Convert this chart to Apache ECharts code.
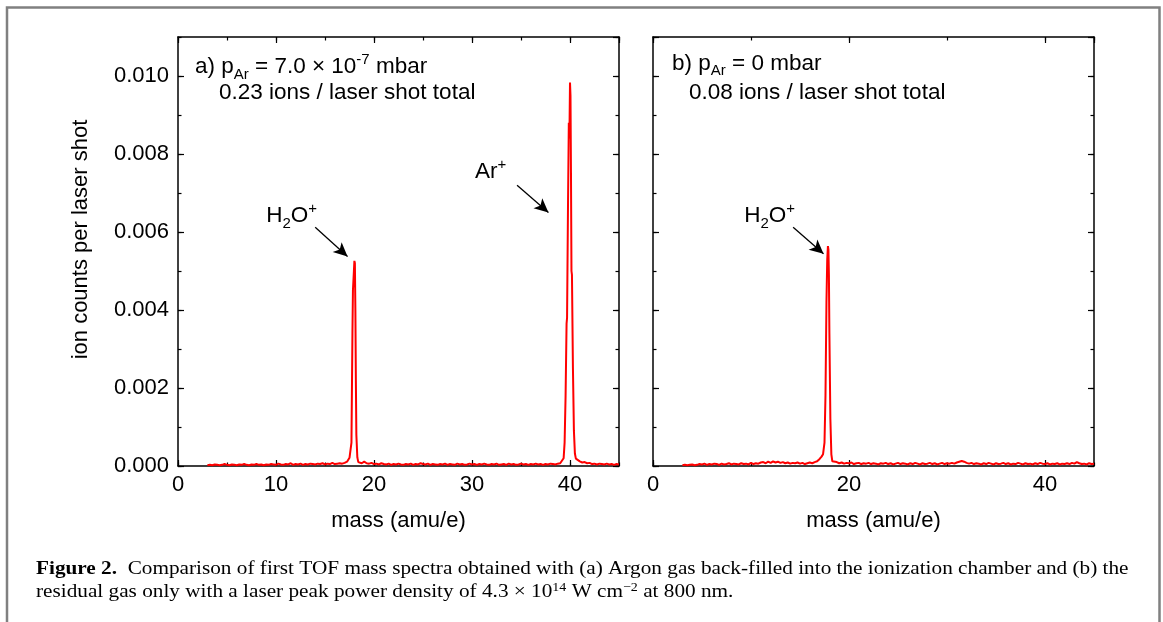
<!DOCTYPE html>
<html>
<head>
<meta charset="utf-8">
<script src="https://cdn.jsdelivr.net/npm/echarts@6/dist/echarts.min.js"></script>
<style>
  html, body { margin: 0; padding: 0; background: #fff; }
  #c { width: 1163px; height: 622px; }
</style>
</head>
<body>
<div id="c"></div>
<script>
// TOF mass spectrum, Ar back-filled: [mass (amu/e), ion counts per laser shot]
const spectrumAr = [
  [3.00,2e-5],[3.25,3e-5],[3.50,2e-5],[3.75,4e-5],[4.00,3e-5],[4.25,2e-5],[4.50,3e-5],[4.75,5e-5],
  [5.00,3e-5],[5.25,2e-5],[5.50,4e-5],[5.75,3e-5],[6.00,2e-5],[6.25,4e-5],[6.50,3e-5],[6.75,5e-5],
  [7.00,3e-5],[7.25,2e-5],[7.50,4e-5],[7.75,3e-5],[8.00,5e-5],[8.25,3e-5],[8.50,4e-5],[8.75,2e-5],
  [9.00,4e-5],[9.25,3e-5],[9.50,5e-5],[9.75,4e-5],[10.00,3e-5],[10.25,6e-5],[10.50,4e-5],[10.75,3e-5],
  [11.00,5e-5],[11.25,4e-5],[11.50,7e-5],[11.75,3e-5],[12.00,5e-5],[12.25,4e-5],[12.50,6e-5],[12.75,3e-5],
  [13.00,5e-5],[13.25,4e-5],[13.50,6e-5],[13.75,5e-5],[14.00,4e-5],[14.25,6e-5],[14.50,5e-5],[14.75,7e-5],
  [15.00,4e-5],[15.25,6e-5],[15.50,5e-5],[15.75,8e-5],[16.00,5e-5],[16.25,6e-5],[16.50,7e-5],[16.75,6e-5],
  [17.00,8e-5],[17.25,1.1e-4],[17.40,1.5e-4],[17.50,2.1e-4],[17.60,2.6e-4],[17.70,6e-4],[17.80,3.4e-3],
  [17.85,4.5e-3],[17.90,4.55e-3],[17.95,5.0e-3],[18.00,5.26e-3],[18.05,5.2e-3],[18.10,4.0e-3],[18.15,2.2e-3],
  [18.20,8e-4],[18.30,2.2e-4],[18.40,1.0e-4],[18.50,8e-5],[18.75,7e-5],[19.00,1.1e-4],[19.25,7e-5],
  [19.50,6e-5],[19.75,8e-5],[20.00,5e-5],[20.25,6e-5],[20.50,4e-5],[20.75,7e-5],[21.00,5e-5],[21.25,4e-5],
  [21.50,6e-5],[21.75,3e-5],[22.00,5e-5],[22.25,4e-5],[22.50,6e-5],[22.75,4e-5],[23.00,3e-5],[23.25,5e-5],
  [23.50,4e-5],[23.75,6e-5],[24.00,3e-5],[24.25,5e-5],[24.50,4e-5],[24.75,7e-5],[25.00,5e-5],[25.25,4e-5],
  [25.50,6e-5],[25.75,3e-5],[26.00,5e-5],[26.25,4e-5],[26.50,3e-5],[26.75,5e-5],[27.00,4e-5],[27.25,6e-5],
  [27.50,3e-5],[27.75,5e-5],[28.00,4e-5],[28.25,3e-5],[28.50,6e-5],[28.75,4e-5],[29.00,5e-5],[29.25,3e-5],
  [29.50,4e-5],[29.75,6e-5],[30.00,4e-5],[30.25,5e-5],[30.50,3e-5],[30.75,5e-5],[31.00,4e-5],[31.25,6e-5],
  [31.50,4e-5],[31.75,3e-5],[32.00,5e-5],[32.25,4e-5],[32.50,6e-5],[32.75,3e-5],[33.00,4e-5],[33.25,5e-5],
  [33.50,3e-5],[33.75,6e-5],[34.00,4e-5],[34.25,5e-5],[34.50,3e-5],[34.75,4e-5],[35.00,6e-5],[35.25,4e-5],
  [35.50,5e-5],[35.75,3e-5],[36.00,5e-5],[36.25,4e-5],[36.50,6e-5],[36.75,4e-5],[37.00,5e-5],[37.25,3e-5],
  [37.50,5e-5],[37.75,4e-5],[38.00,6e-5],[38.25,5e-5],[38.50,4e-5],[38.75,6e-5],[39.00,7e-5],[39.20,9e-5],
  [39.35,2.0e-4],[39.45,6e-4],[39.55,1.8e-3],[39.65,3.65e-3],[39.70,3.8e-3],[39.80,6.8e-3],[39.88,8.8e-3],
  [39.94,8.4e-3],[40.00,9.83e-3],[40.05,9.5e-3],[40.10,7.5e-3],[40.15,5.0e-3],[40.20,4.9e-3],[40.30,2.5e-3],
  [40.40,9e-4],[40.50,3.2e-4],[40.60,1.9e-4],[40.75,1.4e-4],[41.00,1.2e-4],[41.25,9e-5],[41.50,1.0e-4],
  [41.75,7e-5],[42.00,8e-5],[42.25,5e-5],[42.50,6e-5],[42.75,4e-5],[43.00,6e-5],[43.25,5e-5],[43.50,4e-5],
  [43.75,6e-5],[44.00,4e-5],[44.25,5e-5],[44.50,3e-5],[44.75,5e-5],[45.00,4e-5]
];

// TOF mass spectrum, residual gas only
const spectrumResidual = [
  [3.00,2e-5],[3.25,3e-5],[3.50,2e-5],[3.75,3e-5],[4.00,4e-5],[4.25,2e-5],[4.50,3e-5],[4.75,5e-5],
  [5.00,4e-5],[5.25,6e-5],[5.50,3e-5],[5.75,5e-5],[6.00,4e-5],[6.25,6e-5],[6.50,5e-5],[6.75,3e-5],
  [7.00,6e-5],[7.25,4e-5],[7.50,5e-5],[7.75,7e-5],[8.00,4e-5],[8.25,6e-5],[8.50,5e-5],[8.75,4e-5],
  [9.00,7e-5],[9.25,5e-5],[9.50,6e-5],[9.75,4e-5],[10.00,8e-5],[10.25,5e-5],[10.50,7e-5],[10.75,6e-5],
  [11.00,9e-5],[11.25,1.0e-4],[11.50,7e-5],[11.75,1.1e-4],[12.00,8e-5],[12.25,1.2e-4],[12.50,9e-5],
  [12.75,1.1e-4],[13.00,8e-5],[13.25,1.0e-4],[13.50,7e-5],[13.75,9e-5],[14.00,6e-5],[14.25,8e-5],
  [14.50,7e-5],[14.75,9e-5],[15.00,6e-5],[15.25,8e-5],[15.50,5e-5],[15.75,7e-5],[16.00,9e-5],[16.25,7e-5],
  [16.50,1.0e-4],[16.75,1.2e-4],[17.00,1.8e-4],[17.20,2.4e-4],[17.35,3.0e-4],[17.50,6e-4],[17.60,1.8e-3],
  [17.70,4.2e-3],[17.78,5.3e-3],[17.85,5.64e-3],[17.90,5.55e-3],[17.95,4.9e-3],[18.00,3.4e-3],[18.10,1.2e-3],
  [18.20,3.0e-4],[18.30,1.2e-4],[18.50,9e-5],[18.75,1.0e-4],[19.00,7e-5],[19.25,9e-5],[19.50,6e-5],
  [19.75,8e-5],[20.00,7e-5],[20.25,9e-5],[20.50,5e-5],[20.75,7e-5],[21.00,8e-5],[21.25,5e-5],[21.50,7e-5],
  [21.75,6e-5],[22.00,8e-5],[22.25,5e-5],[22.50,7e-5],[22.75,6e-5],[23.00,4e-5],[23.25,7e-5],[23.50,6e-5],
  [23.75,8e-5],[24.00,5e-5],[24.25,7e-5],[24.50,4e-5],[24.75,6e-5],[25.00,8e-5],[25.25,5e-5],[25.50,7e-5],
  [25.75,6e-5],[26.00,4e-5],[26.25,7e-5],[26.50,5e-5],[26.75,8e-5],[27.00,6e-5],[27.25,4e-5],[27.50,7e-5],
  [27.75,5e-5],[28.00,6e-5],[28.25,8e-5],[28.50,5e-5],[28.75,7e-5],[29.00,4e-5],[29.25,6e-5],[29.50,8e-5],
  [29.75,5e-5],[30.00,7e-5],[30.25,6e-5],[30.50,8e-5],[30.75,6e-5],[31.00,9e-5],[31.25,1.1e-4],[31.50,1.3e-4],
  [31.75,1.1e-4],[32.00,8e-5],[32.25,6e-5],[32.50,8e-5],[32.75,5e-5],[33.00,7e-5],[33.25,6e-5],[33.50,4e-5],
  [33.75,7e-5],[34.00,5e-5],[34.25,8e-5],[34.50,6e-5],[34.75,4e-5],[35.00,7e-5],[35.25,5e-5],[35.50,6e-5],
  [35.75,8e-5],[36.00,5e-5],[36.25,7e-5],[36.50,4e-5],[36.75,6e-5],[37.00,5e-5],[37.25,8e-5],[37.50,6e-5],
  [37.75,4e-5],[38.00,7e-5],[38.25,5e-5],[38.50,6e-5],[38.75,4e-5],[39.00,7e-5],[39.25,5e-5],[39.50,8e-5],
  [39.75,6e-5],[40.00,5e-5],[40.25,7e-5],[40.50,4e-5],[40.75,6e-5],[41.00,5e-5],[41.25,7e-5],[41.50,4e-5],
  [41.75,6e-5],[42.00,5e-5],[42.25,7e-5],[42.50,5e-5],[42.75,8e-5],[43.00,6e-5],[43.25,1.0e-4],[43.50,7e-5],
  [43.75,5e-5],[44.00,6e-5],[44.25,4e-5],[44.50,7e-5],[44.75,5e-5],[45.00,6e-5]
];

// Axis ranges and tick spacing
const massRange = [0, 45];
const countRange = [0, 0.011];
const massStepA = [10, 5];     // major, minor (panel a)
const massStepB = [20, 10];    // major, minor (panel b)
const countStep = [0.002, 0.001];

// Peak annotations: label anchor and arrow [start, end] in data units
const peakLabelsA = [
  { name: 'H2O', text: '{n|H}{sub|2}{n|O}{sup|+}', at: [11.6, 0.00641] },
  { name: 'Ar', text: '{n|Ar}{sup|+}', at: [31.9, 0.00754] }
];
const peakArrowsA = [
  [[14.0, 0.00612], [17.3, 0.00537]],
  [[34.6, 0.00720], [37.8, 0.00650]]
];
const peakLabelsB = [
  { name: 'H2O', text: '{n|H}{sub|2}{n|O}{sup|+}', at: [11.9, 0.00641] }
];
const peakArrowsB = [
  [[14.3, 0.00612], [17.4, 0.00544]]
];

const SANS = '"Liberation Sans", Arial, sans-serif';
const SERIF = '"Liberation Serif", "Times New Roman", serif';

const richSans = {
  n:   { fontSize: 22.5, fontFamily: SANS, color: '#000', lineHeight: 30 },
  sub: { fontSize: 15, fontFamily: SANS, color: '#000', lineHeight: 16, verticalAlign: 'bottom' },
  sup: { fontSize: 15, fontFamily: SANS, color: '#000', lineHeight: 16, verticalAlign: 'top' }
};

function axis(extra) {
  return Object.assign({
    type: 'value',
    splitLine: { show: false },
    axisLine: { show: false, onZero: false },
    axisTick: { show: true, inside: true, length: 6, lineStyle: { color: '#000', width: 1.2 } },
    axisLabel: { show: false }
  }, extra);
}
const frameLine = { show: true, onZero: false, lineStyle: { color: '#000', width: 1.5 } };
const minorTick = { show: true, inside: true, length: 3.5, lineStyle: { color: '#000', width: 1.2 } };

function xAxes(grid, steps, withName) {
  const common = { gridIndex: grid, min: massRange[0], max: massRange[1] };
  return [
    axis(Object.assign({}, common, {
      position: 'bottom', interval: steps[0], axisLine: frameLine,
      axisLabel: { show: true, fontSize: 22, fontFamily: SANS, color: '#000', margin: 8, showMaxLabel: false },
      name: withName, nameLocation: 'middle', nameGap: 44,
      nameTextStyle: { fontSize: 22, fontFamily: SANS, color: '#000' }
    })),
    axis(Object.assign({}, common, { position: 'bottom', interval: steps[1], axisTick: minorTick })),
    axis(Object.assign({}, common, { position: 'top', interval: steps[0], axisLine: frameLine })),
    axis(Object.assign({}, common, { position: 'top', interval: steps[1], axisTick: minorTick }))
  ];
}
function yAxes(grid, labelled) {
  const common = { gridIndex: grid, min: countRange[0], max: countRange[1] };
  const left = { position: 'left', interval: countStep[0], axisLine: frameLine };
  if (labelled) {
    left.axisLabel = {
      show: true, fontSize: 22, fontFamily: SANS, color: '#000', margin: 9, showMaxLabel: false,
      formatter: v => v.toFixed(3)
    };
    left.name = 'ion counts per laser shot';
    left.nameLocation = 'middle';
    left.nameGap = 86;
    left.nameTextStyle = { fontSize: 22, fontFamily: SANS, color: '#000', padding: [0, 0, 0, 24] };
  }
  return [
    axis(Object.assign({}, common, left)),
    axis(Object.assign({}, common, { position: 'left', interval: countStep[1], axisTick: minorTick })),
    axis(Object.assign({}, common, { position: 'right', interval: countStep[0], axisLine: frameLine })),
    axis(Object.assign({}, common, { position: 'right', interval: countStep[1], axisTick: minorTick }))
  ];
}

function spectrumSeries(data, xi, yi, labels, arrows) {
  return {
    type: 'line',
    xAxisIndex: xi,
    yAxisIndex: yi,
    data: data,
    showSymbol: false,
    symbol: 'none',
    silent: true,
    animation: false,
    z: 3,
    lineStyle: { color: '#ff0000', width: 2 },
    markLine: {
      silent: true,
      animation: false,
      symbol: ['none', 'arrow'],
      symbolSize: [10, 14],
      label: { show: false },
      lineStyle: { color: '#000', width: 1.3, type: 'solid' },
      itemStyle: { color: '#000' },
      data: arrows.map(a => [{ coord: a[0] }, { coord: a[1] }])
    },
    markPoint: {
      silent: true,
      animation: false,
      symbol: 'circle',
      symbolSize: 0,
      itemStyle: { color: 'transparent' },
      label: { show: true, position: 'inside', rich: richSans },
      data: labels.map(l => ({ name: l.name, coord: l.at, label: { formatter: l.text } }))
    }
  };
}

const captionRich = {
  b: { fontSize: 19, fontFamily: SERIF, fontWeight: 'bold', color: '#111', lineHeight: 22 },
  n: { fontSize: 19, fontFamily: SERIF, color: '#111', lineHeight: 22 },
  s: { fontSize: 12.5, fontFamily: SERIF, color: '#111', lineHeight: 12, verticalAlign: 'top' }
};

const chart = echarts.init(document.getElementById('c'), null, { renderer: 'canvas' });

chart.setOption({
  backgroundColor: '#fff',
  animation: false,
  grid: [
    { left: 178, top: 37, width: 441, height: 429 },
    { left: 653, top: 37, width: 441, height: 429 }
  ],
  xAxis: xAxes(0, massStepA, 'mass (amu/e)').concat(xAxes(1, massStepB, 'mass (amu/e)')),
  yAxis: yAxes(0, true).concat(yAxes(1, false)),
  series: [
    spectrumSeries(spectrumAr, 0, 0, peakLabelsA, peakArrowsA),
    spectrumSeries(spectrumResidual, 4, 4, peakLabelsB, peakArrowsB)
  ],
  graphic: [
    // outer figure frame
    {
      type: 'polyline', silent: true,
      shape: { points: [[7, 640], [7, 7.5], [1159.5, 7.5], [1159.5, 640]] },
      style: { stroke: '#808080', lineWidth: 2.5, fill: null }
    },
    // panel headers
    {
      type: 'text', left: 195, top: 52, silent: true,
      style: { text: '{n|a) p}{sub|Ar}{n| = 7.0 × 10}{sup|-7}{n| mbar}', rich: richSans }
    },
    {
      type: 'text', left: 219, top: 81, silent: true,
      style: { text: '{n|0.23 ions / laser shot total}', rich: richSans }
    },
    {
      type: 'text', left: 672, top: 52, silent: true,
      style: { text: '{n|b) p}{sub|Ar}{n| = 0 mbar}', rich: richSans }
    },
    {
      type: 'text', left: 689, top: 81, silent: true,
      style: { text: '{n|0.08 ions / laser shot total}', rich: richSans }
    },
    // caption
    {
      type: 'text', x: 36, y: 558, scaleX: 1.118, silent: true,
      style: {
        text: '{b|Figure 2.}{n|  Comparison of first TOF mass spectra obtained with (a) Argon gas back-filled into the ionization chamber and (b) the}',
        rich: captionRich
      }
    },
    {
      type: 'text', x: 36, y: 581, scaleX: 1.118, silent: true,
      style: {
        text: '{n|residual gas only with a laser peak power density of 4.3 × 10}{s|14}{n| W cm}{s|−2}{n| at 800 nm.}',
        rich: captionRich
      }
    }
  ]
});
</script>
</body>
</html>
